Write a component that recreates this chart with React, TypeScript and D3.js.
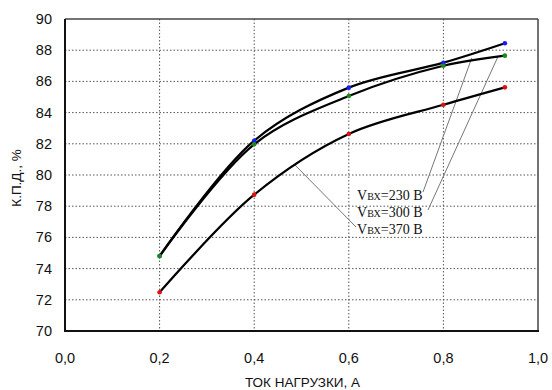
import React from "react";
import * as d3 from "d3";

const xValues = [0.2, 0.4, 0.6, 0.8, 0.93];
const v230 = [74.8, 82.2, 85.6, 87.2, 88.45];
const v300 = [74.8, 81.97, 85.06, 87.0, 87.65];
const v370 = [72.48, 78.74, 82.63, 84.5, 85.62];
const seriesColors = ["#1a1aff", "#1a8a1a", "#e01010"];
const seriesLabels = ["=230 В", "=300 В", "=370 В"];
const xTicks = [0, 0.2, 0.4, 0.6, 0.8, 1.0];
const yTicks = [70, 72, 74, 76, 78, 80, 82, 84, 86, 88, 90];

const W = 552, H = 390;
const L = 65, R = 538, T = 19, B = 331;

export default function App() {
  const x = d3.scaleLinear().domain([0, 1]).range([L, R]);
  const y = d3.scaleLinear().domain([70, 90]).range([B, T]);
  const series = [v230, v300, v370];
  const line = d3
    .line<[number, number]>()
    .x((d) => x(d[0]))
    .y((d) => y(d[1]))
    .curve(d3.curveCatmullRom.alpha(0.5));
  const fmt = (v: number) => v.toFixed(1).replace(".", ",");

  const labelPos = [
    { tx: 357, ty: 200, lx1: 423, ly1: 192 },
    { tx: 357, ty: 217, lx1: 428, ly1: 210 },
    { tx: 357, ty: 234, lx1: 356, ly1: 227 },
  ];
  const targets = [
    [x(0.86), 58],
    [x(0.915), 57],
    [295, 165],
  ];

  return (
    <svg width={W} height={H} style={{ position: "absolute", left: 0, top: 0, background: "#fff" }}>
      <rect x={0} y={0} width={W} height={H} fill="#fff" />
      {yTicks.filter((t) => t > 70 && t < 90).map((t) => (
        <line key={"gy" + t} x1={L} x2={R} y1={y(t)} y2={y(t)} stroke="#555" strokeWidth={1} strokeDasharray="1.5,2" />
      ))}
      {xTicks.filter((t) => t > 0 && t < 1).map((t) => (
        <line key={"gx" + t} x1={x(t)} x2={x(t)} y1={T} y2={B} stroke="#555" strokeWidth={1} strokeDasharray="1.5,2" />
      ))}
      <line x1={L} x2={R} y1={T} y2={T} stroke="#444" strokeWidth={1.5} />
      <line x1={R} x2={R} y1={T} y2={B} stroke="#444" strokeWidth={1.5} />
      <line x1={L} x2={L} y1={T} y2={B + 1} stroke="#111" strokeWidth={2} />
      <line x1={L - 1} x2={R + 1} y1={B} y2={B} stroke="#111" strokeWidth={2} />
      {yTicks.map((t) => (
        <text key={"ty" + t} x={52} y={y(t) + 5} textAnchor="end" fontFamily="Liberation Sans, Arial, sans-serif" fontSize={14.5} fill="#111">
          {t}
        </text>
      ))}
      {xTicks.map((t) => (
        <text key={"tx" + t} x={x(t)} y={363} textAnchor="middle" fontFamily="Liberation Sans, Arial, sans-serif" fontSize={14.5} fill="#111">
          {fmt(t)}
        </text>
      ))}
      <text x={(L + R) / 2 + 1} y={387} textAnchor="middle" fontFamily="Liberation Sans, Arial, sans-serif" fontSize={13.5} fill="#111">
        ТОК НАГРУЗКИ, А
      </text>
      <text transform={`translate(21,${178}) rotate(-90)`} textAnchor="middle" fontFamily="Liberation Sans, Arial, sans-serif" fontSize={13.5} fill="#111">
        К.П.Д., %
      </text>
      {labelPos.map((p, i) => (
        <line key={"ld" + i} x1={p.lx1} y1={p.ly1} x2={targets[i][0]} y2={targets[i][1]} stroke="#777" strokeWidth={1} />
      ))}
      {series.map((s, i) => (
        <path key={"c" + i} d={line(xValues.map((xv, j) => [xv, s[j]] as [number, number])) || ""} fill="none" stroke="#000" strokeWidth={2.2} />
      ))}
      {series.map((s, i) =>
        xValues.map((xv, j) => (
          <circle key={"p" + i + j} cx={x(xv)} cy={y(s[j])} r={2.3} fill={seriesColors[i]} />
        ))
      )}
      {labelPos.map((p, i) => (
        <text key={"lb" + i} x={p.tx} y={p.ty} fontFamily="Liberation Serif, Times New Roman, serif" fontSize={14} fill="#111">
          V<tspan fontSize={10}>ВХ</tspan>
          {seriesLabels[i]}
        </text>
      ))}
    </svg>
  );
}
